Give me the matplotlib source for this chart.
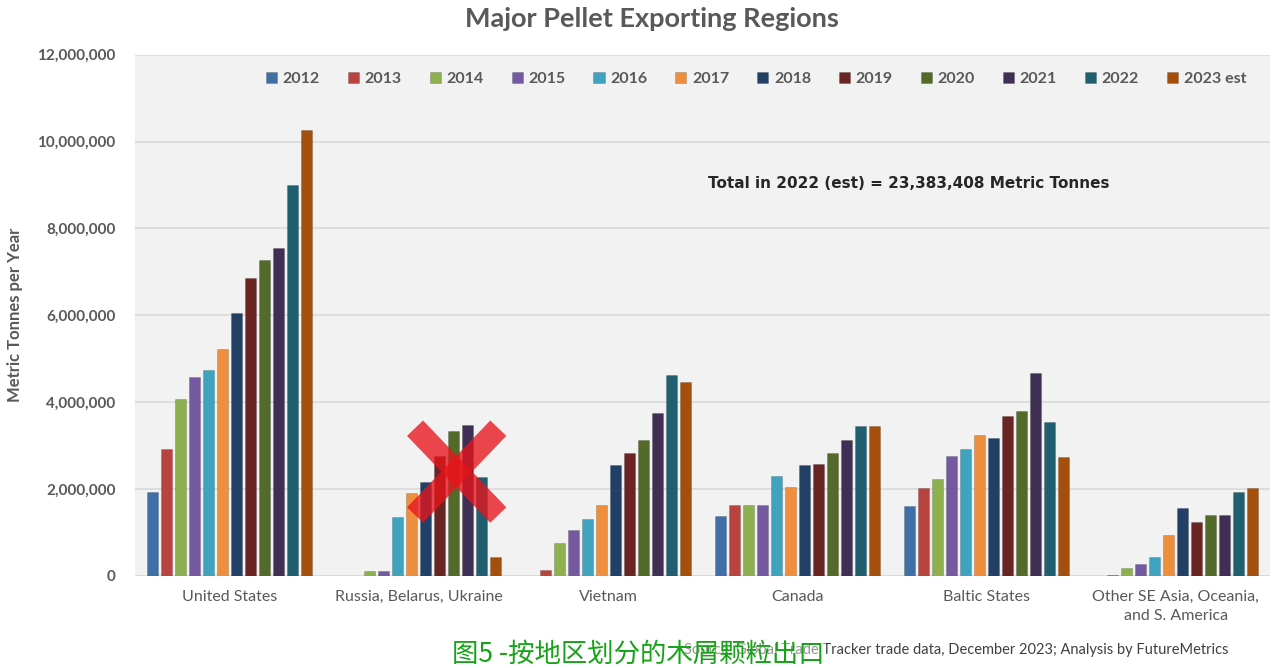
import numpy as np
import matplotlib.pyplot as plt
from matplotlib.ticker import FuncFormatter

plt.rcParams['font.family'] = ['Lato', 'DejaVu Sans']

regions = ['United States', 'Russia, Belarus, Ukraine', 'Vietnam', 'Canada',
           'Baltic States', 'Other SE Asia, Oceania,\nand S. America']
years = ['2012', '2013', '2014', '2015', '2016', '2017', '2018', '2019',
         '2020', '2021', '2022', '2023 est']

# tonnes per year, one list per region (2012 .. 2023 est)
us = [1.92e6, 2.92e6, 4.07e6, 4.59e6, 4.73e6, 5.23e6, 6.06e6, 6.87e6, 7.28e6, 7.55e6, 9.00e6, 10.27e6]
russia = [0, 0, 0.12e6, 0.12e6, 1.36e6, 1.90e6, 2.15e6, 2.76e6, 3.33e6, 3.47e6, 2.27e6, 0.44e6]
vietnam = [0, 0.14e6, 0.76e6, 1.06e6, 1.30e6, 1.64e6, 2.55e6, 2.84e6, 3.13e6, 3.75e6, 4.63e6, 4.46e6]
canada = [1.37e6, 1.64e6, 1.64e6, 1.64e6, 2.30e6, 2.04e6, 2.55e6, 2.58e6, 2.83e6, 3.13e6, 3.46e6, 3.46e6]
baltic = [1.60e6, 2.03e6, 2.24e6, 2.75e6, 2.93e6, 3.24e6, 3.17e6, 3.68e6, 3.79e6, 4.67e6, 3.54e6, 2.73e6]
other = [0, 0.03e6, 0.19e6, 0.28e6, 0.44e6, 0.95e6, 1.57e6, 1.25e6, 1.39e6, 1.39e6, 1.94e6, 2.03e6]

colors = ['#3f6fa6', '#b8433f', '#8fb04e', '#7559a0', '#3fa3bf', '#ef8f3e',
          '#223f66', '#6a2424', '#536a2a', '#3f2f55', '#1f5f70', '#a4500c']

data = np.array([us, russia, vietnam, canada, baltic, other])

fig = plt.figure(figsize=(12.74, 6.68), dpi=100)
ax = fig.add_axes([0.106, 0.138, 0.891, 0.78])
ax.set_facecolor('#f2f2f2')

x = np.arange(len(regions))
step = 0.074
width = 0.058
for j, yr in enumerate(years):
    ax.bar(x + (j - 5.5) * step, data[:, j], width, color=colors[j],
           edgecolor='#00000030', linewidth=0.6, label=yr, zorder=3)

ax.set_xlim(-0.5, 5.5)
ax.set_ylim(0, 12e6)
ax.set_yticks(np.arange(0, 12.1e6, 2e6))
ax.yaxis.set_major_formatter(FuncFormatter(lambda v, p: '{:,.0f}'.format(v)))
ax.grid(axis='y', color='#d9d9d9', linewidth=1.2, zorder=0)
ax.set_xticks(x)
ax.set_xticklabels(regions, fontsize=11.5, color='#595959', linespacing=1.5)
ax.tick_params(axis='both', length=0)
ax.tick_params(axis='y', labelsize=11, labelcolor='#595959', pad=14)
ax.tick_params(axis='x', pad=10)
for lab in ax.get_yticklabels():
    lab.set_fontweight('bold')
for s in ax.spines.values():
    s.set_visible(False)
ax.axhline(0, color='#d9d9d9', linewidth=1.2, zorder=2)

ax.set_ylabel('Metric Tonnes per Year', fontsize=12, fontweight='bold',
              color='#595959', labelpad=10)

leg = ax.legend(ncol=12, loc='upper center', bbox_to_anchor=(0.547, 0.995),
                frameon=False, handlelength=0.7, handleheight=0.7,
                handletextpad=0.35, columnspacing=1.75,
                prop={'weight': 'bold', 'size': 11.5})
for t in leg.get_texts():
    t.set_color('#595959')

ax.text(0.505, 0.745, 'Total in 2022 (est) = 23,383,408 Metric Tonnes',
        transform=ax.transAxes, fontsize=11, fontweight='bold', color='#262626',
        family='DejaVu Sans')

# red cross over the Russia group
cx, cy = 1.2, 2.4e6
dx, dy = 0.22, 1.0e6
for sgn in (1, -1):
    ax.plot([cx - dx, cx + dx], [cy + sgn * dy, cy - sgn * dy], color='#e8141c',
            alpha=0.78, linewidth=16, solid_capstyle='butt', zorder=5)

fig.text(0.512, 0.972, 'Major Pellet Exporting Regions', ha='center', va='center',
         fontsize=19.5, fontweight='bold', color='#595959')

fig.text(0.964, 0.016, 'Source: Global Trade Tracker trade data, December 2023; Analysis by FutureMetrics',
         ha='right', va='bottom', fontsize=10.5, color='#404040')
fig.text(0.355, 0.0, '图5 -按地区划分的木屑颗粒出口', ha='left', va='bottom',
         fontsize=19, color='#17a317', family=['Noto Sans CJK SC', 'DejaVu Sans'],
         bbox=dict(facecolor='white', alpha=0.45, edgecolor='none', pad=1))

fig.savefig('out.png', dpi=100, facecolor='white')
